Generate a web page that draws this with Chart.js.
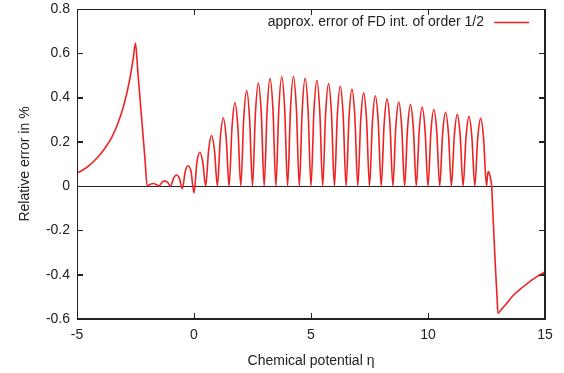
<!DOCTYPE html>
<html><head><meta charset="utf-8">
<script src="https://cdn.jsdelivr.net/npm/chart.js@4/dist/chart.umd.min.js"></script>
<style>html,body{margin:0;padding:0;background:#fff;}</style>
</head><body>
<canvas id="c" width="564" height="373"></canvas>
<script>
const seriesLabel = 'approx. error of FD int. of order 1/2';
const xTitle = 'Chemical potential \u03b7';
const yTitle = 'Relative error in %';

// chemical potential (x) and relative error in % (y)
const eta = [
  -5.0, -4.75, -4.5, -4.25, -4.0, -3.75, -3.5, -3.25, -3.0, -2.75, -2.6, -2.5,
  -2.4, -2.25, -2.1,
  -2.0, -1.875, -1.75, -1.625,
  -1.5, -1.375, -1.25, -1.125,
  -1.0, -0.875, -0.75, -0.625,
  -0.5, -0.375, -0.25, -0.125,
  0.0, 0.125, 0.25, 0.375,
  0.5, 0.625, 0.75, 0.875,
  1.0, 1.125, 1.25, 1.375,
  1.5, 1.625, 1.75, 1.875,
  2.0, 2.125, 2.25, 2.375,
  2.5, 2.625, 2.75, 2.875,
  3.0, 3.125, 3.25, 3.375,
  3.5, 3.625, 3.75, 3.875,
  4.0, 4.125, 4.25, 4.375,
  4.5, 4.625, 4.75, 4.875,
  5.0, 5.125, 5.25, 5.375,
  5.5, 5.625, 5.75, 5.875,
  6.0, 6.125, 6.25, 6.375,
  6.5, 6.625, 6.75, 6.875,
  7.0, 7.125, 7.25, 7.375,
  7.5, 7.625, 7.75, 7.875,
  8.0, 8.125, 8.25, 8.375,
  8.5, 8.625, 8.75, 8.875,
  9.0, 9.125, 9.25, 9.375,
  9.5, 9.625, 9.75, 9.875,
  10.0, 10.125, 10.25, 10.375,
  10.5, 10.625, 10.75, 10.875,
  11.0, 11.125, 11.25, 11.375,
  11.5, 11.625, 11.75, 11.875,
  12.0, 12.125, 12.25, 12.375,
  12.5, 12.54, 12.58, 12.63, 12.68, 12.72, 12.78, 12.88, 12.95, 12.99,
  13.1, 13.3, 13.63, 14.0, 14.35, 14.7, 15.0
];
const relErr = [
  0.059, 0.073, 0.092, 0.116, 0.144, 0.180, 0.224, 0.284, 0.365, 0.480, 0.575, 0.645,
  0.516, 0.322, 0.129,
  0.0, 0.008, 0.012, 0.008,
  0.0, 0.017, 0.024, 0.017,
  0.0, 0.035, 0.050, 0.035,
  -0.012, 0.065, 0.092, 0.065,
  -0.031, 0.108, 0.153, 0.108,
  0.0, 0.162, 0.229, 0.162,
  0.0, 0.218, 0.308, 0.218,
  0.0, 0.266, 0.376, 0.266,
  0.0, 0.305, 0.432, 0.305,
  0.0, 0.329, 0.466, 0.329,
  0.0, 0.344, 0.486, 0.344,
  0.0, 0.349, 0.494, 0.349,
  0.0, 0.350, 0.495, 0.350,
  0.0, 0.344, 0.487, 0.344,
  0.0, 0.337, 0.477, 0.337,
  0.0, 0.327, 0.463, 0.327,
  0.0, 0.319, 0.451, 0.319,
  0.0, 0.310, 0.438, 0.310,
  0.0, 0.298, 0.421, 0.298,
  0.0, 0.288, 0.408, 0.288,
  0.0, 0.279, 0.394, 0.279,
  0.0, 0.269, 0.380, 0.269,
  0.0, 0.260, 0.368, 0.260,
  0.0, 0.252, 0.356, 0.252,
  0.0, 0.245, 0.346, 0.245,
  0.0, 0.236, 0.334, 0.236,
  0.0, 0.228, 0.323, 0.228,
  0.0, 0.222, 0.314, 0.222,
  0.0, 0.216, 0.306, 0.216,
  0.0, 0.047, 0.066, 0.055, 0.030, 0.0, -0.137, -0.363, -0.500, -0.574,
  -0.562, -0.537, -0.495, -0.460, -0.431, -0.405, -0.388
];
const xTickValues = [-5, 0, 5, 10, 15];
const yTickValues = [-0.6, -0.4, -0.2, 0, 0.2, 0.4, 0.6, 0.8];

const lineColor = 'rgb(238,34,34)';
const textColor = '#222222';
const fontFamily = '"Liberation Sans", Arial, Helvetica, sans-serif';
const font14 = { family: fontFamily, size: 14 };

// frame, inward ticks on all sides, and the key (text then line sample)
const framePlugin = {
  id: 'frameAndKey',
  afterDraw(chart) {
    const ctx = chart.ctx;
    const a = chart.chartArea;
    const xs = chart.scales.x, ys = chart.scales.y;
    ctx.save();
    ctx.globalAlpha = 1;
    ctx.globalCompositeOperation = 'source-over';
    ctx.fillStyle = textColor;
    const L = Math.round(a.left), R = Math.round(a.right);
    const T = Math.round(a.top), B = Math.round(a.bottom);
    ctx.fillRect(L, T, R - L, 1);
    ctx.fillRect(L, B - 1, R - L, 1);
    ctx.fillRect(L, T, 1, B - T);
    ctx.fillRect(R - 1, T, 1, B - T);
    const tl = 6;
    xTickValues.forEach(v => {
      const px = Math.round(xs.getPixelForValue(v));
      ctx.fillRect(px, B - tl, 1, tl);
      ctx.fillRect(px, T, 1, tl);
    });
    yTickValues.forEach(v => {
      const py = Math.round(ys.getPixelForValue(v));
      ctx.fillRect(L, py, tl, 1);
      ctx.fillRect(R - tl, py, tl, 1);
    });
    const ds = chart.data.datasets[0];
    const ly = a.top + 13.5;
    ctx.font = '14px ' + fontFamily;
    ctx.textAlign = 'right';
    ctx.textBaseline = 'middle';
    ctx.fillText(ds.label, a.right - 61, ly);
    ctx.strokeStyle = ds.borderColor;
    ctx.lineWidth = ds.borderWidth;
    ctx.beginPath();
    ctx.moveTo(a.right - 51, ly);
    ctx.lineTo(a.right - 16, ly);
    ctx.stroke();
    ctx.restore();
  }
};

const inwardTicks = { display: true, drawOnChartArea: false, drawTicks: true,
                      tickLength: -6, color: textColor, tickColor: textColor, lineWidth: 1 };
const frameBorder = { display: true, color: textColor, width: 1 };

new Chart(document.getElementById('c'), {
  type: 'line',
  data: {
    datasets: [{
      label: seriesLabel,
      data: eta.map((v, i) => ({ x: v, y: relErr[i] })),
      borderColor: lineColor,
      backgroundColor: lineColor,
      borderWidth: 1.6,
      pointRadius: 0,
      fill: false,
      cubicInterpolationMode: 'monotone',
      xAxisID: 'x',
      yAxisID: 'y'
    }]
  },
  options: {
    responsive: false,
    devicePixelRatio: 1,
    animation: false,
    layout: { padding: { left: 0, right: 19, top: 9, bottom: 0 } },
    plugins: { legend: { display: false }, tooltip: { enabled: false } },
    scales: {
      x: {
        type: 'linear', position: 'bottom', min: -5, max: 15,
        afterBuildTicks: s => { s.ticks = xTickValues.map(v => ({ value: v })); },
        afterFit: s => { s.height = 54; s.paddingLeft = 0; s.paddingRight = 0; },
        grid: inwardTicks,
        border: frameBorder,
        ticks: { color: textColor, font: font14, padding: 14, maxRotation: 0,
                 callback: v => String(v) },
        title: { display: true, text: xTitle, color: textColor, font: font14,
                 padding: { top: 0, bottom: 3 } }
      },
      x2: {
        type: 'linear', position: 'top', min: -5, max: 15,
        afterBuildTicks: s => { s.ticks = xTickValues.map(v => ({ value: v })); },
        afterFit: s => { s.height = 0; s.paddingLeft = 0; s.paddingRight = 0; },
        grid: inwardTicks,
        border: frameBorder,
        ticks: { display: false }
      },
      y: {
        type: 'linear', position: 'left', min: -0.6, max: 0.8,
        afterBuildTicks: s => { s.ticks = yTickValues.map(v => ({ value: v })); },
        afterFit: s => { s.width = 77; s.paddingTop = 0; s.paddingBottom = 0; },
        grid: {
          display: true, drawOnChartArea: true, drawTicks: true, tickLength: -6,
          tickColor: textColor, lineWidth: 1,
          color: c => (c.tick && Math.abs(c.tick.value) < 1e-9) ? textColor : 'rgba(0,0,0,0)'
        },
        border: frameBorder,
        ticks: { color: textColor, font: font14, padding: 13,
                 callback: v => String(Number(v.toFixed(1))) },
        title: { display: true, text: yTitle, color: textColor, font: font14,
                 padding: { top: 17, bottom: 0 } }
      },
      y2: {
        type: 'linear', position: 'right', min: -0.6, max: 0.8,
        afterBuildTicks: s => { s.ticks = yTickValues.map(v => ({ value: v })); },
        afterFit: s => { s.width = 0; s.paddingTop = 0; s.paddingBottom = 0; },
        grid: inwardTicks,
        border: frameBorder,
        ticks: { display: false }
      }
    }
  },
  plugins: [framePlugin]
});
</script>
</body></html>
